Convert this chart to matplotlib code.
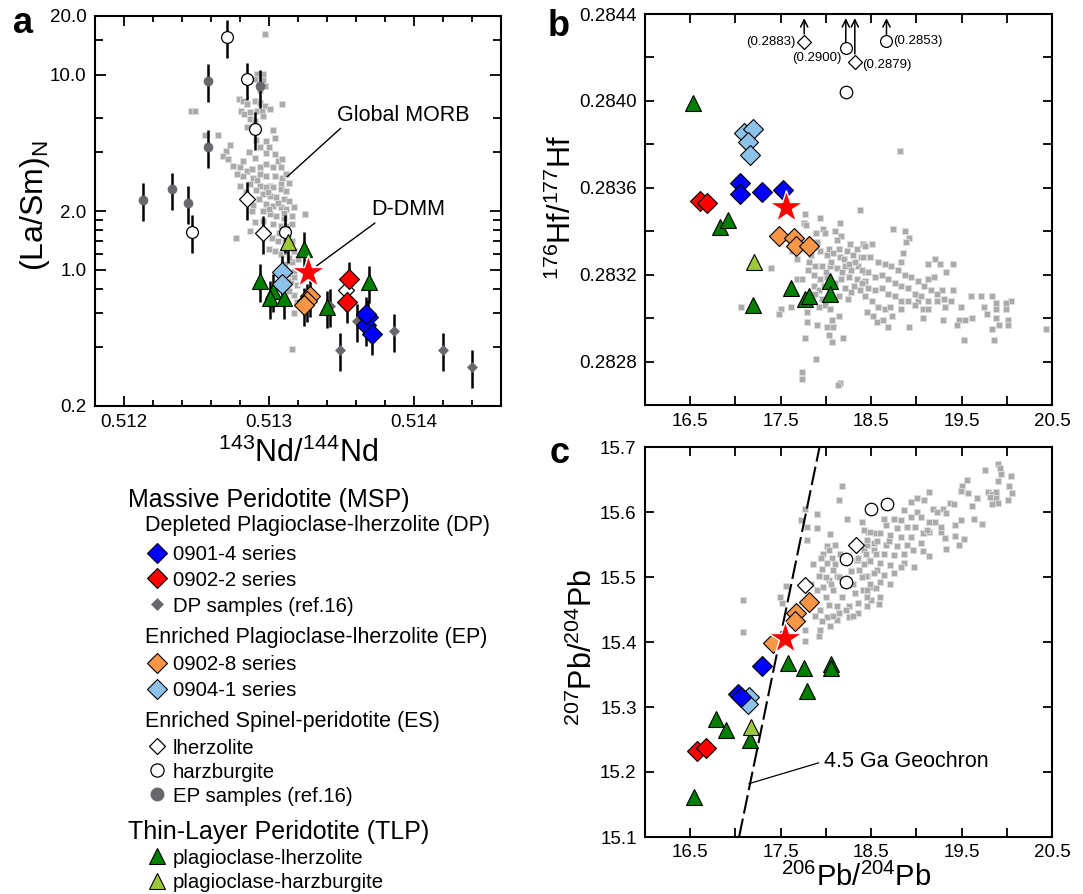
import matplotlib
matplotlib.use("Agg")
import matplotlib.pyplot as plt
import numpy as np

plt.rcParams['font.family'] = ['Liberation Sans', 'DejaVu Sans']
plt.rcParams['mathtext.fontset'] = 'custom'
plt.rcParams['mathtext.rm'] = 'Liberation Sans'
plt.rcParams['mathtext.it'] = 'Liberation Sans:italic'
plt.rcParams['mathtext.bf'] = 'Liberation Sans:bold'

# ---------------------------------------------------------------- data
# Panel a: 143Nd/144Nd vs (La/Sm)N
A_MORB_ND = [0.51297, 0.51292, 0.51296, 0.51290, 0.51296, 0.51297, 0.51294, 0.51279, 0.51282, 0.51285,
             0.51290, 0.51294, 0.51297, 0.51301, 0.51309, 0.51281, 0.51283, 0.51287, 0.51292, 0.51295,
             0.51296, 0.51287, 0.51290, 0.51285, 0.51246, 0.51249, 0.51256, 0.51265, 0.51303, 0.51304,
             0.51298, 0.51294, 0.51300, 0.51273, 0.51270, 0.51268, 0.51272, 0.51290, 0.51298, 0.51304,
             0.51306, 0.51309, 0.51275, 0.51280, 0.51285, 0.51288, 0.51294, 0.51298, 0.51303, 0.51308,
             0.51278, 0.51282, 0.51289, 0.51294, 0.51298, 0.51304, 0.51309, 0.51312, 0.51314, 0.51280,
             0.51287, 0.51294, 0.51301, 0.51308, 0.51298, 0.51303, 0.51308, 0.51312, 0.51296, 0.51301,
             0.51305, 0.51310, 0.51314, 0.51317, 0.51298, 0.51303, 0.51308, 0.51312, 0.51301, 0.51305,
             0.51310, 0.51316, 0.51325, 0.51296, 0.51303, 0.51308, 0.51312, 0.51316, 0.51290, 0.51287,
             0.51277, 0.51288, 0.51298, 0.51302, 0.51306, 0.51311, 0.51316, 0.51300, 0.51304, 0.51308,
             0.51312, 0.51317, 0.51320, 0.51316, 0.51311, 0.51317, 0.51319, 0.51317, 0.51319, 0.51317,
             0.51316, 0.51292, 0.51299, 0.51306, 0.51310, 0.51300, 0.51293, 0.51291, 0.51296, 0.51307,
             0.51313, 0.51314, 0.51313, 0.51315, 0.51284, 0.51289, 0.51282, 0.51286, 0.51291, 0.51314,
             0.51317]
A_MORB_LASM = [16.2, 10.1, 10.1, 9.5, 9.4, 8.8, 8.3, 7.5, 7.35, 7.06,
               7.35, 7.2, 6.93, 6.67, 7.06, 6.54, 6.28, 6.41, 6.54, 6.54,
               6.16, 5.92, 5.81, 5.37, 6.5, 6.5, 4.9, 4.9, 5.2, 4.73,
               4.58, 4.24, 4.27, 4.38, 4.07, 3.84, 3.69, 3.76, 3.99, 3.92,
               3.62, 3.69, 3.41, 3.35, 3.22, 3.28, 3.35, 3.48, 3.35, 3.35,
               3.10, 3.03, 2.97, 3.09, 3.03, 3.03, 2.97, 3.09, 2.77, 2.70,
               2.75, 2.70, 2.70, 2.75, 2.64, 2.64, 2.59, 2.52, 2.44, 2.40,
               2.35, 2.30, 2.26, 2.09, 2.17, 2.13, 2.09, 2.05, 1.93, 1.89,
               1.85, 1.89, 1.93, 1.78, 1.72, 1.68, 1.68, 1.72, 1.75, 1.58,
               1.45, 2.01, 1.55, 1.46, 1.41, 1.38, 1.41, 1.28, 1.25, 1.20,
               1.23, 1.25, 1.13, 1.09, 1.07, 0.99, 0.83, 0.74, 0.68, 0.60,
               0.39, 2.90, 2.50, 2.20, 1.95, 2.05, 2.30, 2.55, 2.00, 1.55,
               1.50, 1.15, 0.95, 0.88, 2.50, 2.15, 3.60, 4.00, 4.60, 0.78,
               0.92]

A_BLUE_ND = [0.51368, 0.51367, 0.51371, 0.51367]
A_BLUE_LASM = [0.57, 0.52, 0.47, 0.595]
A_RED_ND = [0.51355, 0.51354]
A_RED_LASM = [0.90, 0.68]
A_DP_ND = [0.51349, 0.51386, 0.51420, 0.51440, 0.51342, 0.51361]
A_DP_LASM = [0.388, 0.483, 0.386, 0.317, 0.654, 0.548]
A_ORANGE_ND = [0.51328, 0.51326, 0.51324]
A_ORANGE_LASM = [0.736, 0.693, 0.661]
A_LBLUE_ND = [0.51309, 0.51309]
A_LBLUE_LASM = [0.969, 0.845]
A_LHERZ_ND = [0.51285, 0.51296, 0.51353]
A_LHERZ_LASM = [2.31, 1.55, 0.783]
A_HARZ_ND = [0.51271, 0.51285, 0.51290, 0.51247, 0.51311]
A_HARZ_LASM = [15.7, 9.46, 5.28, 1.57, 1.57]
A_EP_ND = [0.51258, 0.51294, 0.51258, 0.51213, 0.51233, 0.51244]
A_EP_LASM = [9.25, 8.7, 4.28, 2.29, 2.58, 2.20]
A_PL_ND = [0.51294, 0.51303, 0.51301, 0.51310, 0.51324, 0.51340, 0.51369]
A_PL_LASM = [0.875, 0.777, 0.715, 0.72, 1.277, 0.641, 0.861]
A_PH_ND = [0.51313]
A_PH_LASM = [1.38]
A_DDMM = (0.51327, 0.97)
LASM_REL_ERR = 0.22

# Panel b: 206Pb/204Pb vs 176Hf/177Hf
B_MORB_PB = [17.77, 17.76, 17.78, 17.94, 18.16, 18.38, 17.97, 17.89, 17.99, 18.10,
             18.17, 18.12, 18.27, 18.34, 18.41, 17.62, 18.03, 17.94, 18.01, 18.08,
             18.16, 18.23, 18.30, 18.39, 17.68, 17.81, 17.88, 17.96, 18.04, 18.12,
             18.21, 18.28, 18.36, 18.43, 17.39, 17.80, 17.87, 17.94, 18.01, 18.17,
             18.25, 18.34, 18.43, 17.68, 17.74, 17.87, 17.92, 18.21, 18.28, 18.38,
             17.88, 17.96, 17.85, 17.99, 17.92, 17.50, 17.61, 17.48, 17.79, 18.04,
             18.14, 18.07, 17.06, 17.79, 17.90, 18.01, 18.08, 18.03, 18.19, 18.07,
             17.77, 17.89, 17.74, 17.74, 18.16, 18.13,
             18.74, 18.87, 18.92, 18.89, 18.85, 18.83, 19.13, 19.21, 19.26, 19.41,
             19.33, 19.19, 19.13, 19.28, 19.40, 19.60, 19.71, 19.84, 20.05, 19.99,
             19.88, 19.75, 19.78, 19.88, 19.99, 19.62, 19.54, 19.47, 19.45, 19.88,
             20.01, 20.01, 19.91, 19.84, 19.53, 19.86, 19.30, 19.07, 18.92, 19.49,
             19.32, 19.23, 19.13, 19.02,
             18.43, 18.51, 18.41, 18.49, 18.58, 18.65, 18.72, 18.80, 18.87, 18.94,
             19.02, 19.09, 19.16, 19.23, 19.31, 19.38, 18.40, 18.47, 18.54, 18.62,
             18.69, 18.76, 18.83, 18.91, 18.98, 19.05, 18.40, 18.47, 18.54, 18.62,
             18.69, 18.76, 18.83, 18.91, 18.98, 19.07, 18.43, 18.51, 18.58, 18.65,
             18.71, 18.45, 18.52, 18.56, 18.63, 18.69, 18.83, 18.73, 19.13,
             18.82, 20.43, 18.06, 18.14, 18.20, 18.26, 18.32, 18.00, 18.10, 18.18,
             17.98, 18.05, 18.14, 18.24, 18.31, 17.84, 17.90]
B_MORB_HF = [0.28348, 0.28344, 0.28343, 0.28346, 0.28344, 0.28350, 0.28341, 0.28339, 0.28339, 0.28340,
             0.28338, 0.28336, 0.28334, 0.28332, 0.28334, 0.28331, 0.28332, 0.28331, 0.28329, 0.28330,
             0.28328, 0.28331, 0.28329, 0.28328, 0.28327, 0.28326, 0.28324, 0.28324, 0.28324, 0.28323,
             0.28324, 0.28322, 0.28324, 0.28321, 0.28323, 0.28322, 0.28320, 0.28318, 0.28319, 0.28318,
             0.28319, 0.28318, 0.28317, 0.28318, 0.28318, 0.28315, 0.28313, 0.28314, 0.28312, 0.28313,
             0.28311, 0.28309, 0.28308, 0.28306, 0.28305, 0.28304, 0.28305, 0.28302, 0.28303, 0.28304,
             0.28301, 0.28299, 0.28305, 0.28298, 0.28297, 0.28296, 0.28296, 0.28292, 0.28291, 0.28289,
             0.28291, 0.28281, 0.28275, 0.28272, 0.28270, 0.28269,
             0.28341, 0.28340, 0.28337, 0.28335, 0.28330, 0.28326, 0.28325, 0.28327, 0.28325, 0.28325,
             0.28321, 0.28319, 0.28318, 0.28313, 0.28313, 0.28310, 0.28310, 0.28310, 0.28308, 0.28307,
             0.28307, 0.28305, 0.28302, 0.28304, 0.28304, 0.28300, 0.28299, 0.28299, 0.28297, 0.28300,
             0.28299, 0.28297, 0.28297, 0.28295, 0.28290, 0.28290, 0.28299, 0.28300, 0.28296, 0.28305,
             0.28305, 0.28308, 0.28308, 0.28308,
             0.28333, 0.28334, 0.28328, 0.28328, 0.28326, 0.28325, 0.28324, 0.28322, 0.28320, 0.28319,
             0.28317, 0.28315, 0.28313, 0.28311, 0.28309, 0.28308, 0.28322, 0.28321, 0.28319, 0.28320,
             0.28318, 0.28316, 0.28315, 0.28314, 0.28311, 0.28310, 0.28316, 0.28314, 0.28313, 0.28314,
             0.28311, 0.28310, 0.28308, 0.28308, 0.28306, 0.28304, 0.28310, 0.28308, 0.28305, 0.28304,
             0.28305, 0.28303, 0.28301, 0.28298, 0.28299, 0.28296, 0.28304, 0.28301, 0.28304,
             0.28377, 0.28295, 0.28326, 0.28332, 0.28327, 0.28325, 0.28326, 0.28321, 0.28316, 0.28321,
             0.28315, 0.28312, 0.28310, 0.28309, 0.28315, 0.28329, 0.28335]

B_PL_PB = [16.53, 16.83, 16.92, 17.19, 17.61, 17.77, 17.81, 18.05, 18.05]
B_PL_HF = [0.28399, 0.28342, 0.28345, 0.28306, 0.28314, 0.28309, 0.28310, 0.28317, 0.28311]
B_PH_PB = [17.20]
B_PH_HF = [0.28326]
B_BLUE_PB = [17.05, 17.05, 17.29, 17.53]
B_BLUE_HF = [0.28362, 0.28357, 0.28358, 0.28359]
B_RED_PB = [16.61, 16.68]
B_RED_HF = [0.28354, 0.28353]
B_ORANGE_PB = [17.48, 17.65, 17.67, 17.81]
B_ORANGE_HF = [0.28338, 0.28337, 0.28333, 0.28333]
B_LBLUE_PB = [17.10, 17.19, 17.14, 17.16]
B_LBLUE_HF = [0.28385, 0.28387, 0.28381, 0.28375]
B_HARZ_PB = [18.22]
B_HARZ_HF = [0.28404]
B_DDMM = (17.56, 0.28351)
# samples whose Hf ratio lies above the axis: true value and plotted position
B_OFF_LHERZ_PB = [17.76, 18.32]
B_OFF_LHERZ_VAL = [0.2883, 0.2879]
B_OFF_LHERZ_POS = [0.284273, 0.284181]
B_OFF_HARZ_PB = [18.22, 18.67]
B_OFF_HARZ_VAL = [0.2900, 0.2853]
B_OFF_HARZ_POS = [0.284243, 0.284278]

# Panel c: 206Pb/204Pb vs 207Pb/204Pb
C_MORB_206 = [18.18, 18.15, 18.23, 18.40, 17.90, 17.77, 17.73, 17.79, 17.90, 18.04,
              18.47, 18.01, 18.10, 17.97, 18.07, 18.16, 18.01, 17.96, 18.08, 18.34,
              18.42, 18.53, 18.48, 18.37, 18.45, 18.56, 17.92, 18.03, 18.12, 17.97,
              17.90, 18.08, 18.18, 18.32, 18.41, 18.50, 18.50, 18.36, 18.25, 18.12,
              18.03, 17.94, 18.01, 18.12, 18.25, 18.36, 18.45, 17.96, 18.05, 17.94,
              17.92, 17.77, 17.77, 17.49, 17.56, 17.52, 17.08, 17.08, 17.79, 18.45,
              18.54, 18.03,
              19.90, 19.92, 19.76, 19.94, 20.05, 19.90, 19.56, 19.51, 19.49, 19.57,
              19.67, 19.62, 19.73, 19.64, 19.79, 19.84, 19.88, 19.81, 19.88, 20.01,
              20.06, 20.02, 19.84, 19.90, 19.14, 19.08, 19.01, 18.94, 19.18, 19.23,
              19.29, 19.37, 19.42, 19.33, 19.49, 19.43, 19.21, 19.14, 19.27, 19.14,
              19.07, 19.32, 19.43, 19.53, 19.47, 19.33, 19.07, 19.14, 18.97, 18.86,
              18.86, 19.01, 19.05, 18.94, 18.83, 18.75, 18.64, 18.67, 18.79, 18.90,
              18.99, 18.94, 18.83, 18.71, 18.60, 18.49, 18.42, 18.45, 18.57, 18.67,
              18.79, 18.90, 18.96, 18.86, 18.75, 18.64, 18.53, 18.44, 18.49, 18.60,
              18.71, 18.83, 18.75, 18.64, 18.53, 18.44, 18.49, 18.60, 18.71, 18.45,
              18.55, 18.60, 18.59, 18.45, 19.05, 19.12, 19.27,
              17.95, 18.00, 18.06, 18.10, 18.15, 18.20, 18.28, 18.30, 18.35, 18.40,
              18.22, 18.30, 18.15, 18.08, 17.88, 17.85, 17.83, 17.86, 18.00, 18.42,
              18.55, 18.70]
C_MORB_207 = [15.640, 15.618, 15.589, 15.584, 15.597, 15.605, 15.588, 15.577, 15.575, 15.566,
              15.570, 15.547, 15.549, 15.536, 15.529, 15.536, 15.521, 15.513, 15.511, 15.526,
              15.542, 15.552, 15.526, 15.511, 15.501, 15.511, 15.501, 15.496, 15.501, 15.485,
              15.480, 15.480, 15.470, 15.475, 15.480, 15.485, 15.465, 15.460, 15.455, 15.455,
              15.457, 15.450, 15.439, 15.434, 15.439, 15.444, 15.455, 15.432, 15.424, 15.419,
              15.409, 15.401, 15.419, 15.470, 15.486, 15.460, 15.465, 15.415, 15.557, 15.549,
              15.567, 15.542,
              15.674, 15.668, 15.665, 15.658, 15.655, 15.648, 15.650, 15.640, 15.633, 15.629,
              15.622, 15.609, 15.581, 15.589, 15.631, 15.627, 15.631, 15.623, 15.621, 15.618,
              15.630, 15.640, 15.613, 15.614, 15.631, 15.619, 15.621, 15.616, 15.605, 15.600,
              15.605, 15.614, 15.612, 15.598, 15.588, 15.580, 15.585, 15.585, 15.570, 15.570,
              15.567, 15.560, 15.563, 15.558, 15.549, 15.543, 15.540, 15.532, 15.515, 15.521,
              15.603, 15.600, 15.593, 15.593, 15.588, 15.590, 15.590, 15.580, 15.575, 15.577,
              15.577, 15.562, 15.562, 15.565, 15.567, 15.570, 15.572, 15.557, 15.555, 15.549,
              15.547, 15.549, 15.542, 15.536, 15.534, 15.536, 15.542, 15.536, 15.524, 15.521,
              15.518, 15.516, 15.506, 15.503, 15.506, 15.501, 15.490, 15.493, 15.490, 15.480,
              15.483, 15.470, 15.459, 15.470, 15.552, 15.572, 15.577,
              15.530, 15.500, 15.490, 15.520, 15.500, 15.490, 15.510, 15.490, 15.530, 15.500,
              15.450, 15.440, 15.445, 15.440, 15.440, 15.460, 15.490, 15.520, 15.470, 15.520,
              15.535, 15.555]

C_PL_206 = [16.54, 16.78, 16.90, 17.16, 17.58, 17.76, 17.79, 18.06, 18.06]
C_PL_207 = [15.162, 15.281, 15.265, 15.250, 15.367, 15.360, 15.324, 15.366, 15.360]
C_PH_206 = [17.17]
C_PH_207 = [15.270]
C_RED_206 = [16.58, 16.67]
C_RED_207 = [15.232, 15.237]
C_BLUE_206 = [17.29, 17.03, 17.06]
C_BLUE_207 = [15.363, 15.320, 15.315]
C_LBLUE_206 = [17.15, 17.14]
C_LBLUE_207 = [15.316, 15.305]
C_ORANGE_206 = [17.81, 17.67, 17.66, 17.42]
C_ORANGE_207 = [15.462, 15.444, 15.432, 15.399]
C_LHERZ_206 = [17.77, 18.33]
C_LHERZ_207 = [15.488, 15.549]
C_HARZ_206 = [18.50, 18.68, 18.22, 18.22]
C_HARZ_207 = [15.605, 15.612, 15.527, 15.492]
C_DDMM = (17.55, 15.406)
GEOCHRON_206 = [17.04, 17.93]
GEOCHRON_207 = [15.10, 15.70]

# ---------------------------------------------------------------- styles
BLUE, RED, ORANGE, LBLUE = '#0000ff', '#ff0000', '#f79646', '#8dc3ea'
DKGREEN, LTGREEN, DKGREY = '#007f00', '#9bc93a', '#68686c'
MORB_FACE, MORB_EDGE = '#ababab', '#dedede'

S_BLUE = dict(marker='D', ms=10, mfc=BLUE, mec='k', mew=0.8, ls='none')
S_RED = dict(marker='D', ms=10, mfc=RED, mec='k', mew=0.8, ls='none')
S_ORANGE = dict(marker='D', ms=10, mfc=ORANGE, mec='k', mew=0.8, ls='none')
S_LBLUE = dict(marker='D', ms=10, mfc=LBLUE, mec='k', mew=0.8, ls='none')
S_DP = dict(marker='D', ms=5.5, mfc=DKGREY, mec=DKGREY, mew=0.5, ls='none')
S_LHERZ = dict(marker='D', ms=8, mfc='white', mec='k', mew=0.9, ls='none')
S_HARZ = dict(marker='o', ms=9, mfc='white', mec='k', mew=0.9, ls='none')
S_EP = dict(marker='o', ms=7, mfc=DKGREY, mec=DKGREY, mew=0.5, ls='none')
S_PL = dict(marker='^', ms=11, mfc=DKGREEN, mec='k', mew=0.8, ls='none')
S_PH = dict(marker='^', ms=11, mfc=LTGREEN, mec='k', mew=0.8, ls='none')
S_STAR = dict(marker='*', ms=25, mfc=RED, mec='white', mew=1.0, ls='none')

W, H = 1083, 894
fig = plt.figure(figsize=(W / 100, H / 100), dpi=100)


def axes_px(left, top, right, bottom):
    return fig.add_axes([left / W, 1 - bottom / H, (right - left) / W, (bottom - top) / H])


def frame(ax):
    for sp in ax.spines.values():
        sp.set_linewidth(1.5)
    ax.tick_params(which='both', direction='in', top=True, right=True, width=1.3,
                   labelsize=13.5, colors='k')
    ax.tick_params(which='major', length=7, pad=6)
    ax.tick_params(which='minor', length=4.5)


def morb(ax, x, y):
    ax.scatter(x, y, marker='s', s=21, c=MORB_FACE, edgecolors=MORB_EDGE,
               linewidths=0.6, zorder=1)


# ---------------------------------------------------------------- panel a
ax_a = axes_px(95, 16, 501, 406)
frame(ax_a)
ax_a.set_yscale('log')
ax_a.set_xlim(0.5118, 0.5146)
ax_a.set_ylim(0.2, 20)
ax_a.set_xticks([0.512, 0.513, 0.514], ['0.512', '0.513', '0.514'])
ax_a.set_xticks(np.arange(0.5120, 0.5146, 0.0002), minor=True)
ax_a.set_yticks([0.2, 1, 2, 10, 20], ['0.2', '1.0', '2.0', '10.0', '20.0'])
minor_y = [0.4, 0.6, 0.8, 1.2, 1.4, 1.6, 1.8, 4, 6, 15]
ax_a.set_yticks(minor_y, [''] * len(minor_y), minor=True)
ax_a.tick_params(axis='y', which='minor', length=5.5)
ax_a.tick_params(axis='y', which='major', length=8)

morb(ax_a, A_MORB_ND, A_MORB_LASM)

a_series = [(A_EP_ND, A_EP_LASM, dict(S_EP, ms=6.5)), (A_DP_ND, A_DP_LASM, S_DP),
            (A_HARZ_ND, A_HARZ_LASM, dict(S_HARZ, ms=8.5)), (A_LHERZ_ND, A_LHERZ_LASM, S_LHERZ),
            (A_PL_ND, A_PL_LASM, S_PL), (A_PH_ND, A_PH_LASM, S_PH),
            (A_LBLUE_ND, A_LBLUE_LASM, S_LBLUE), (A_ORANGE_ND, A_ORANGE_LASM, S_ORANGE),
            (A_RED_ND, A_RED_LASM, S_RED), (A_BLUE_ND, A_BLUE_LASM, S_BLUE)]
for xs, ys, st in a_series:
    ys_arr = np.asarray(ys)
    ax_a.errorbar(xs, ys_arr, yerr=LASM_REL_ERR * ys_arr, fmt='none', ecolor='k',
                  elinewidth=1.8, capsize=0, zorder=2)
for xs, ys, st in a_series:
    ax_a.plot(xs, ys, zorder=3, **st)
ax_a.plot(*A_DDMM, zorder=5, **S_STAR)

ax_a.annotate('Global MORB', xy=(0.513126, 3.0), xytext=(0.513926, 6.21),
              fontsize=15.5, ha='center', va='center',
              arrowprops=dict(arrowstyle='-', lw=1.0, color='k', shrinkA=0, shrinkB=0,
                              relpos=(0.05, 0.0)))
ax_a.annotate('D-DMM', xy=(0.513329, 1.048), xytext=(0.513961, 2.03),
              fontsize=15.5, ha='center', va='center',
              arrowprops=dict(arrowstyle='-', lw=1.0, color='k', shrinkA=0, shrinkB=0,
                              relpos=(0.1, 0.0)))

ax_a.set_ylabel(r'(La/Sm)$_{\mathregular{N}}$', fontsize=23)
ax_a.yaxis.set_label_coords(-0.105, 0.513)
ax_a.set_xlabel(r'$^{\mathregular{143}}$Nd/$^{\mathregular{144}}$Nd', fontsize=22)
ax_a.xaxis.set_label_coords(0.5, -0.082)

# ---------------------------------------------------------------- panel b
ax_b = axes_px(645, 14, 1052, 405)
frame(ax_b)
ax_b.set_xlim(16.0, 20.5)
ax_b.set_ylim(0.2826, 0.2844)
ax_b.set_xticks(np.arange(16.5, 20.51, 0.5),
                ['16.5', '', '17.5', '', '18.5', '', '19.5', '', '20.5'])
ax_b.set_yticks(np.arange(0.2826, 0.28441, 0.0002),
                ['', '0.2828', '', '0.2832', '', '0.2836', '', '0.2840', '', '0.2844'])
ax_b.tick_params(which='major', length=6.5)

morb(ax_b, B_MORB_PB, B_MORB_HF)
ax_b.plot(B_PL_PB, B_PL_HF, zorder=3, **S_PL)
ax_b.plot(B_PH_PB, B_PH_HF, zorder=3, **S_PH)
ax_b.plot(B_LBLUE_PB, B_LBLUE_HF, zorder=3, **S_LBLUE)
ax_b.plot(B_RED_PB, B_RED_HF, zorder=3, **S_RED)
ax_b.plot(B_BLUE_PB, B_BLUE_HF, zorder=3, **S_BLUE)
ax_b.plot(B_ORANGE_PB, B_ORANGE_HF, zorder=3, **S_ORANGE)
ax_b.plot(B_HARZ_PB, B_HARZ_HF, zorder=3, **S_HARZ)
ax_b.plot(*B_DDMM, zorder=5, **S_STAR)

# off-scale samples: marker at the top, arrow pointing up, true value in brackets
S_LHERZ_SMALL = dict(S_LHERZ, ms=7.5)
S_HARZ_SMALL = dict(S_HARZ, ms=8.5)
ax_b.plot(B_OFF_LHERZ_PB, B_OFF_LHERZ_POS, zorder=3, **S_LHERZ_SMALL)
ax_b.plot(B_OFF_HARZ_PB, B_OFF_HARZ_POS, zorder=3, **S_HARZ_SMALL)
ARROW_TIP = 0.284381
for xs, ys, half in [(B_OFF_LHERZ_PB, B_OFF_LHERZ_POS, 5.5), (B_OFF_HARZ_PB, B_OFF_HARZ_POS, 4.3)]:
    for xv, yv in zip(xs, ys):
        ax_b.annotate('', xy=(xv, ARROW_TIP), xytext=(xv, yv),
                      arrowprops=dict(arrowstyle='->', lw=1.1, color='k',
                                      shrinkA=half, shrinkB=0, mutation_scale=13))
label_fmt = '({:.4f})'
ax_b.text(17.66, B_OFF_LHERZ_POS[0], label_fmt.format(B_OFF_LHERZ_VAL[0]),
          fontsize=9.5, ha='right', va='center')
ax_b.text(18.40, B_OFF_LHERZ_POS[1] - 0.000015, label_fmt.format(B_OFF_LHERZ_VAL[1]),
          fontsize=9.5, ha='left', va='center')
ax_b.text(18.17, B_OFF_HARZ_POS[0] - 0.000046, label_fmt.format(B_OFF_HARZ_VAL[0]),
          fontsize=9.5, ha='right', va='center')
ax_b.text(18.74, B_OFF_HARZ_POS[1], label_fmt.format(B_OFF_HARZ_VAL[1]),
          fontsize=9.5, ha='left', va='center')

ax_b.set_ylabel(r'$^{\mathregular{176}}$Hf/$^{\mathregular{177}}$Hf', fontsize=22)
ax_b.yaxis.set_label_coords(-0.165, 0.504)

# ---------------------------------------------------------------- panel c
ax_c = axes_px(645, 447, 1052, 837)
frame(ax_c)
ax_c.set_xlim(16.0, 20.5)
ax_c.set_ylim(15.1, 15.7)
ax_c.set_xticks(np.arange(16.5, 20.51, 0.5),
                ['16.5', '', '17.5', '', '18.5', '', '19.5', '', '20.5'])
ax_c.set_yticks(np.arange(15.1, 15.71, 0.1),
                ['15.1', '15.2', '15.3', '15.4', '15.5', '15.6', '15.7'])
ax_c.tick_params(which='major', length=6.5)
ax_c.tick_params(axis='x', pad=5)

morb(ax_c, C_MORB_206, C_MORB_207)
ax_c.plot(GEOCHRON_206, GEOCHRON_207, color='k', lw=1.5, dashes=(9, 2.5), zorder=2)
ax_c.plot(C_PL_206, C_PL_207, zorder=3, **S_PL)
ax_c.plot(C_PH_206, C_PH_207, zorder=3, **S_PH)
ax_c.plot(C_RED_206, C_RED_207, zorder=3, **S_RED)
ax_c.plot(C_LBLUE_206, C_LBLUE_207, zorder=3, **S_LBLUE)
ax_c.plot(C_BLUE_206, C_BLUE_207, zorder=3, **S_BLUE)
ax_c.plot(C_ORANGE_206, C_ORANGE_207, zorder=3, **S_ORANGE)
ax_c.plot(C_LHERZ_206, C_LHERZ_207, zorder=3, **S_LHERZ)
ax_c.plot(C_HARZ_206, C_HARZ_207, zorder=3, **S_HARZ)
ax_c.plot(*C_DDMM, zorder=5, **S_STAR)
ax_c.annotate('4.5 Ga Geochron', xy=(17.148, 15.182), xytext=(17.98, 15.2166),
              fontsize=15.5, ha='left', va='center',
              arrowprops=dict(arrowstyle='-', lw=0.9, color='k', shrinkA=2, shrinkB=0,
                              relpos=(0.0, 0.5)))

ax_c.set_ylabel(r'$^{\mathregular{207}}$Pb/$^{\mathregular{204}}$Pb', fontsize=22)
ax_c.yaxis.set_label_coords(-0.112, 0.487)
ax_c.set_xlabel(r'$^{\mathregular{206}}$Pb/$^{\mathregular{204}}$Pb', fontsize=21,
                va='bottom')
ax_c.xaxis.set_label_coords(0.52, -0.142)

# ---------------------------------------------------------------- panel letters
fig.text(13 / W, 1 - 33 / H, 'a', fontsize=26, fontweight='bold', va='baseline')
fig.text(548 / W, 1 - 36 / H, 'b', fontsize=26, fontweight='bold', va='baseline')
fig.text(550 / W, 1 - 463 / H, 'c', fontsize=26, fontweight='bold', va='baseline')

# ---------------------------------------------------------------- legend
leg = fig.add_axes([0, 0, 1, 1])
leg.set_xlim(0, W)
leg.set_ylim(H, 0)
leg.axis('off')
leg.patch.set_visible(False)

HEAD_X, SUB_X, MARK_X, TEXT_X = 128, 145, 157, 173
legend_rows = [
    ('head', 'Massive Peridotite (MSP)', None, 497),
    ('sub', 'Depleted Plagioclase-lherzolite (DP)', None, 523),
    ('item', '0901-4 series', S_BLUE, 553),
    ('item', '0902-2 series', S_RED, 578),
    ('item', 'DP samples (ref.16)', dict(S_DP, ms=6.5), 604),
    ('sub', 'Enriched Plagioclase-lherzolite (EP)', None, 635),
    ('item', '0902-8 series', S_ORANGE, 663),
    ('item', '0904-1 series', S_LBLUE, 689),
    ('sub', 'Enriched Spinel-peridotite (ES)', None, 719),
    ('item', 'lherzolite', S_LHERZ, 746),
    ('item', 'harzburgite', dict(S_HARZ, ms=9.5), 770),
    ('item', 'EP samples (ref.16)', dict(S_EP, ms=9.5), 794),
    ('head', 'Thin-Layer Peridotite (TLP)', None, 829),
    ('item', 'plagioclase-lherzolite', S_PL, 856),
    ('item', 'plagioclase-harzburgite', S_PH, 881),
]
for kind, label, st, yy in legend_rows:
    if kind == 'head':
        leg.text(HEAD_X, yy, label, fontsize=18, ha='left', va='center_baseline')
    elif kind == 'sub':
        leg.text(SUB_X, yy, label, fontsize=15.5, ha='left', va='center_baseline')
    else:
        leg.plot([MARK_X], [yy], clip_on=False, **st)
        leg.text(TEXT_X, yy, label, fontsize=14.7, ha='left', va='center_baseline')

fig.savefig('out.png', dpi=100)
